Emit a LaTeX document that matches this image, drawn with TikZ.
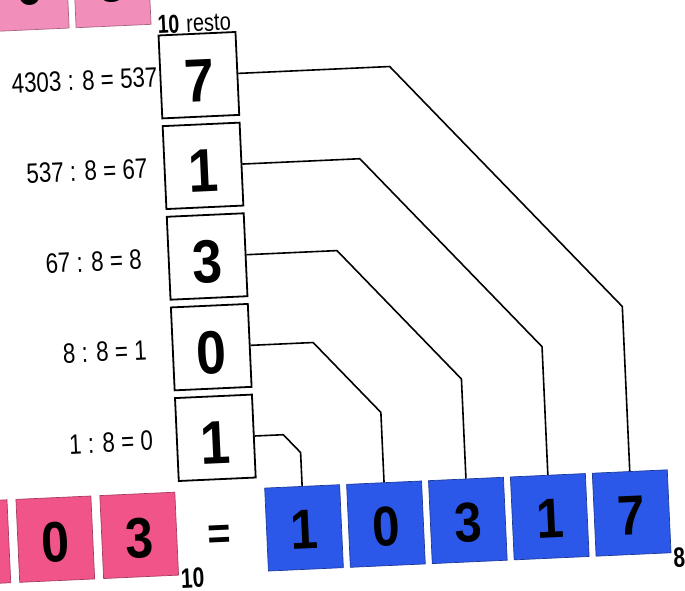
\documentclass[tikz,border=0pt]{standalone}
\usepackage{fontspec}
\setmainfont{Liberation Sans}
\newfontfamily\eqfont[FakeStretch=0.8]{Liberation Sans}
\newfontfamily\digfont[FakeStretch=0.88]{Liberation Sans}
\newfontfamily\subfont[FakeStretch=0.75]{Liberation Sans}
\definecolor{boxblue}{RGB}{44,88,234}
\definecolor{pinkhot}{RGB}{240,84,136}
\definecolor{pinklight}{RGB}{241,142,186}
\begin{document}
\begin{tikzpicture}[x=1pt,y=-1pt,
  rbox/.style={draw=black, line width=1.8pt, fill=white, minimum width=77pt, minimum height=83pt,
    inner sep=0pt, font=\digfont\bfseries\fontsize{61}{61}\selectfont, text height=53pt, text depth=0pt},
  bbox/.style={draw=boxblue!65!black, line width=0.7pt, fill=boxblue, minimum width=75pt, minimum height=83pt,
    inner sep=0pt, font=\digfont\bfseries\fontsize{56}{56}\selectfont, text height=43pt, text depth=0pt},
  pbox/.style={draw=pinkhot!70!black, line width=0.7pt, fill=pinkhot, minimum width=75pt, minimum height=83pt,
    inner sep=0pt, font=\digfont\bfseries\fontsize{57}{57}\selectfont, text height=46pt, text depth=0pt},
  tbox/.style={pbox, fill=pinklight, draw=pinklight!70!black, text height=34pt},
  eqtext/.style={anchor=east, inner sep=0pt, font=\eqfont\fontsize{28}{28}\selectfont},
  subtext/.style={inner sep=0pt, font=\subfont\bfseries\fontsize{28}{28}\selectfont},
  conn/.style={draw=black, line width=1.6pt, line join=round}
]
\useasboundingbox (0,0) rectangle (685,590);
\fill[white] (0,0) rectangle (685,590);
\clip (0,0) rectangle (685,590);
\begin{scope}[rotate around={2.6:(340,295)}, transform shape]
  % top pink number (cut off)
  \node[tbox] (t1) at (44,-25.5) {0};
  \node[tbox] (t2) at (126,-25.5) {3};
  \node[anchor=base, inner sep=0pt, font=\subfont\bfseries\fontsize{26}{26}\selectfont] (tsub) at (181,25.5) {10};
  \node[anchor=base, inner sep=0pt, font=\eqfont\fontsize{25}{25}\selectfont] (resto) at (221,25.5) {resto};

  % remainder boxes
  \node[rbox] (r1) at (209,69) {7};
  \node[rbox] (r2) at (209,159.75) {1};
  \node[rbox] (r3) at (209,250.5) {3};
  \node[rbox] (r4) at (209,341.25) {0};
  \node[rbox] (r5) at (209,432) {1};

  % divisions
  \node[eqtext] (e1) at (167.7,69) {4303 : 8 = 537};
  \node[eqtext] (e2) at (153.5,159.75) {537 : 8 = 67};
  \node[eqtext] (e3) at (143.6,250.5) {67 : 8 = 8};
  \node[eqtext] (e4) at (144.5,341.25) {8 : 8 = 1};
  \node[eqtext] (e5) at (146.6,432) {1 : 8 = 0};

  % bottom pink number (cut off)
  \node[pbox] (p0) at (-39.5,526) {};
  \node[pbox] (p1) at (44.5,526) {0};
  \node[pbox] (p2) at (128.5,526) {3};
  \node[subtext] (psub) at (180,571) {10};
  \node[inner sep=0pt, font=\digfont\bfseries\fontsize{45}{45}\selectfont] (eq) at (209,532) {=};

  % octal result
  \node[bbox] (b1) at (293.5,526) {1};
  \node[bbox] (b2) at (375.5,526) {0};
  \node[bbox] (b3) at (457.5,526) {3};
  \node[bbox] (b4) at (539.5,526) {1};
  \node[bbox] (b5) at (621.5,526) {7};
  \node[subtext] (bsub) at (667,573) {8};

  % connectors
  \draw[conn] (r1.east) -- (400,69) -- (621.5,319.3) -- (b5.north);
  \draw[conn] (r2.east) -- (366,159.75) -- (539.5,355.8) -- (b4.north);
  \draw[conn] (r3.east) -- (339,250.5) -- (457.5,384.4) -- (b3.north);
  \draw[conn] (r4.east) -- (311,341.25) -- (375.5,414.1) -- (b2.north);
  \draw[conn] (r5.east) -- (277,432) -- (293.5,450.6) -- (b1.north);
\end{scope}
\end{tikzpicture}
\end{document}
